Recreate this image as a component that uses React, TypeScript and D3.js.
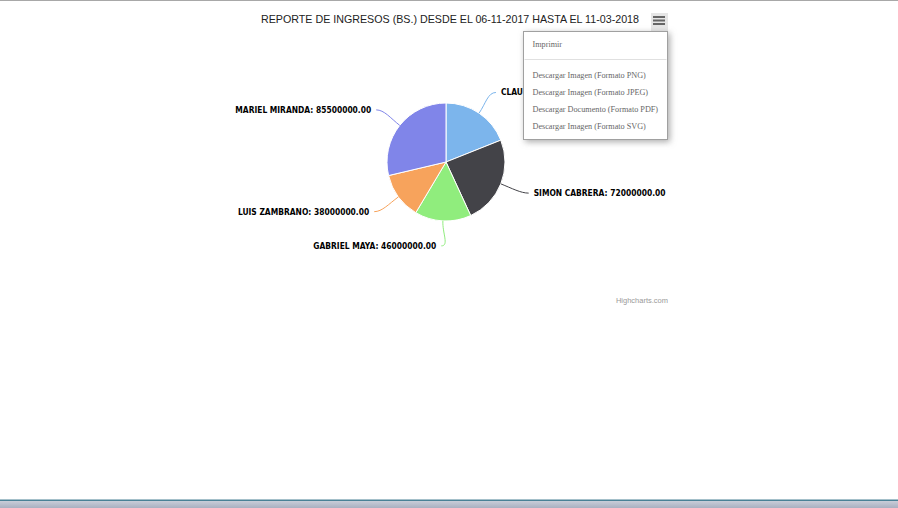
import { useEffect, useRef } from 'react'
import * as d3 from 'd3'

const TITLE = 'REPORTE DE INGRESOS (BS.) DESDE EL 06-11-2017 HASTA EL 11-03-2018'
const NAMES = ['CLAUDIA PEREZ', 'SIMON CABRERA', 'GABRIEL MAYA', 'LUIS ZAMBRANO', 'MARIEL MIRANDA']
const VALUES = [56500000, 72000000, 46000000, 38000000, 85500000]
const COLORS = ['#7cb5ec', '#434348', '#90ed7d', '#f7a35c', '#8085e9']
const MENU_ITEMS = [
  'Descargar Imagen (Formato PNG)',
  'Descargar Imagen (Formato JPEG)',
  'Descargar Documento (Formato PDF)',
  'Descargar Imagen (Formato SVG)',
]

export default function App() {
  const svgRef = useRef<SVGSVGElement>(null)

  useEffect(() => {
    document.body.style.margin = '0'
    const W = 898
    const H = 508
    const cx = 446
    const cy = 162
    const r = 59

    const svg = d3.select(svgRef.current)
    svg.selectAll('*').remove()
    svg.attr('width', W).attr('height', H)

    const defs = svg.append('defs')
    const shadow = defs.append('filter').attr('id', 'menu-shadow')
      .attr('x', '-20%').attr('y', '-20%').attr('width', '140%').attr('height', '140%')
    shadow.append('feDropShadow')
      .attr('dx', 2).attr('dy', 2).attr('stdDeviation', 3)
      .attr('flood-color', '#888').attr('flood-opacity', 0.7)
    const bottomGrad = defs.append('linearGradient').attr('id', 'bottom-grad')
      .attr('x1', 0).attr('y1', 0).attr('x2', 0).attr('y2', 1)
    bottomGrad.append('stop').attr('offset', '0%').attr('stop-color', '#c9cdd8')
    bottomGrad.append('stop').attr('offset', '100%').attr('stop-color', '#a9b0c1')

    svg.append('rect').attr('width', W).attr('height', H).attr('fill', '#fff')

    // page edges
    svg.append('rect').attr('x', 0).attr('y', 0).attr('width', W).attr('height', 1).attr('fill', '#a8a8a8')
    svg.append('rect').attr('x', 0).attr('y', 501).attr('width', W).attr('height', 7).attr('fill', 'url(#bottom-grad)')
    svg.append('rect').attr('x', 0).attr('y', 499.5).attr('width', W).attr('height', 1.5).attr('fill', '#4a8196')

    // title
    svg.append('text')
      .attr('x', 450).attr('y', 23)
      .attr('text-anchor', 'middle')
      .attr('font-family', 'Liberation Sans, Arial, sans-serif')
      .attr('font-size', 10.7)
      .attr('fill', '#222')
      .text(TITLE)

    // pie
    const pie = d3.pie<number>().sort(null).value((d) => d)
    const arcs = pie(VALUES)
    const arc = d3.arc<d3.PieArcDatum<number>>().innerRadius(0).outerRadius(r)

    const g = svg.append('g').attr('transform', `translate(${cx},${cy})`)
    g.selectAll('path.slice')
      .data(arcs)
      .join('path')
      .attr('class', 'slice')
      .attr('d', arc)
      .attr('fill', (d, i) => COLORS[i])
      .attr('stroke', '#fff')
      .attr('stroke-width', 1)
      .attr('stroke-linejoin', 'round')

    // data labels + connectors
    arcs.forEach((d, i) => {
      const a = (d.startAngle + d.endAngle) / 2
      const side = Math.sin(a) >= 0 ? 1 : -1
      const lx = (r + 30) * Math.sin(a)
      const ly = -(r + 25) * Math.cos(a)
      const ex = r * Math.sin(a)
      const ey = -r * Math.cos(a)
      const mx = (r + 12) * Math.sin(a)
      const my = -(r + 12) * Math.cos(a)
      g.append('path')
        .attr('d', `M${lx},${ly} C${lx - side * 8},${ly} ${mx},${my} ${ex},${ey}`)
        .attr('fill', 'none')
        .attr('stroke', COLORS[i])
        .attr('stroke-width', 1)
      g.append('text')
        .attr('x', lx + side * 5)
        .attr('y', ly)
        .attr('dy', '0.35em')
        .attr('text-anchor', side > 0 ? 'start' : 'end')
        .attr('font-family', 'DejaVu Sans Condensed, DejaVu Sans, sans-serif')
        .attr('font-weight', 'bold')
        .attr('font-size', 8.4)
        .attr('fill', '#000')
        .attr('stroke', '#fff')
        .attr('stroke-width', 1.5)
        .attr('paint-order', 'stroke')
        .text(`${NAMES[i]}: ${d.data.toFixed(2)}`)
    })

    // credits
    svg.append('text')
      .attr('x', 668).attr('y', 303)
      .attr('text-anchor', 'end')
      .attr('font-family', 'Liberation Sans, Arial, sans-serif')
      .attr('font-size', 7.5)
      .attr('fill', '#999')
      .text('Highcharts.com')

    // context button
    svg.append('rect')
      .attr('x', 651).attr('y', 13).attr('width', 17).attr('height', 18)
      .attr('fill', '#e6e6e6')
    ;[17, 20.5, 24].forEach((y) => {
      svg.append('rect')
        .attr('x', 653).attr('y', y - 1).attr('width', 12).attr('height', 2)
        .attr('fill', '#666')
    })

    // export menu
    const menu = svg.append('g').attr('transform', 'translate(523.5,31.5)')
    menu.append('rect')
      .attr('width', 144).attr('height', 108)
      .attr('fill', '#fff')
      .attr('stroke', '#a0a0a0')
      .attr('filter', 'url(#menu-shadow)')
    const menuFont = 'Liberation Serif, Times New Roman, serif'
    menu.append('text')
      .attr('x', 9).attr('y', 15)
      .attr('font-family', menuFont).attr('font-size', 8.2).attr('fill', '#666')
      .text('Imprimir')
    menu.append('line')
      .attr('x1', 1).attr('x2', 143).attr('y1', 28).attr('y2', 28)
      .attr('stroke', '#e0e0e0')
    MENU_ITEMS.forEach((t, i) => {
      menu.append('text')
        .attr('x', 9).attr('y', 46 + i * 17)
        .attr('font-family', menuFont).attr('font-size', 8.2).attr('fill', '#666')
        .text(t)
    })

    return () => {
      svg.selectAll('*').remove()
    }
  }, [])

  return (
    <div style={{ position: 'absolute', left: 0, top: 0 }}>
      <svg ref={svgRef} style={{ display: 'block' }} />
    </div>
  )
}
